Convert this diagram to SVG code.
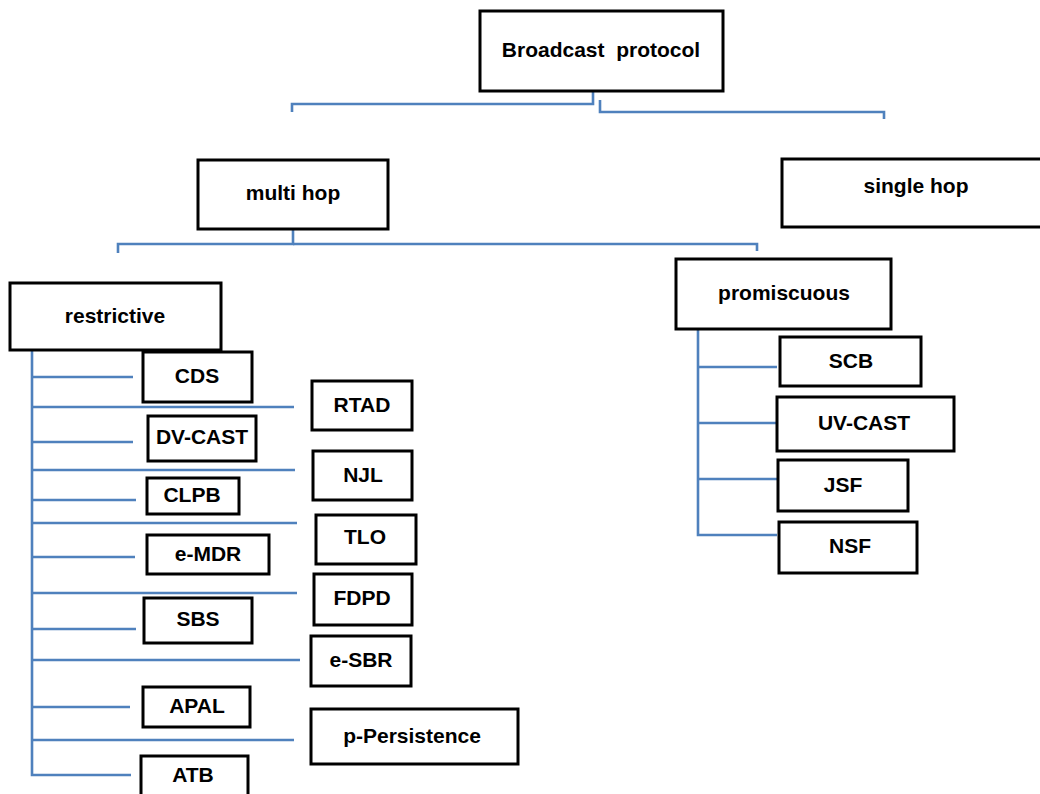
<svg xmlns="http://www.w3.org/2000/svg" width="1040" height="794" viewBox="0 0 1040 794">
<style>
.box{fill:#fff;stroke:#000;stroke-width:3}
.lbl{font-family:"Liberation Sans",Arial,sans-serif;font-weight:bold;font-size:21px;fill:#000;text-anchor:middle}
.con{fill:none;stroke:#4F81BD;stroke-width:2.6}
</style>
<rect width="1040" height="794" fill="#fff"/>
<g id="connectors">
<path class="con" d="M593,91 V104 H292 V112"/>
<path class="con" d="M600,100 V112 H884 V119"/>
<path class="con" d="M293,229 V244 H118 V253"/>
<path class="con" d="M293,244 H757 V251"/>
<path class="con" d="M32,350 V775 H131"/>
<path class="con" d="M32,377 H133 M32,407 H294 M32,442 H133 M32,470 H295 M32,500 H136 M32,523 H297 M32,557 H135 M32,593 H297 M32,629 H136 M32,660 H300 M32,707 H130 M32,740 H294"/>
<path class="con" d="M698,329 V535 H777 M698,367 H777 M698,423 H777 M698,479 H777"/>
</g>
<g id="n-broadcast"><rect class="box" x="480" y="11" width="243" height="80"/><text class="lbl" x="601" y="57" xml:space="preserve">Broadcast  protocol</text></g>
<g id="n-multihop"><rect class="box" x="198" y="160" width="190" height="69"/><text class="lbl" x="293" y="200">multi hop</text></g>
<g id="n-singlehop"><rect class="box" x="782" y="159" width="264" height="68"/><text class="lbl" x="916" y="193">single hop</text></g>
<g id="n-restrictive"><rect class="box" x="10" y="283" width="211" height="67"/><text class="lbl" x="115" y="323">restrictive</text></g>
<g id="n-promiscuous"><rect class="box" x="676" y="259" width="215" height="70"/><text class="lbl" x="784" y="300">promiscuous</text></g>
<g id="n-cds"><rect class="box" x="143" y="352" width="109" height="50"/><text class="lbl" x="197" y="383">CDS</text></g>
<g id="n-rtad"><rect class="box" x="312" y="381" width="100" height="49"/><text class="lbl" x="362" y="412">RTAD</text></g>
<g id="n-dvcast"><rect class="box" x="148" y="416" width="108" height="45"/><text class="lbl" x="202" y="444">DV-CAST</text></g>
<g id="n-njl"><rect class="box" x="313" y="451" width="99" height="49"/><text class="lbl" x="363" y="482">NJL</text></g>
<g id="n-clpb"><rect class="box" x="147" y="478" width="92" height="36"/><text class="lbl" x="192" y="502">CLPB</text></g>
<g id="n-tlo"><rect class="box" x="316" y="515" width="100" height="49"/><text class="lbl" x="365" y="544">TLO</text></g>
<g id="n-emdr"><rect class="box" x="147" y="535" width="122" height="39"/><text class="lbl" x="208" y="561">e-MDR</text></g>
<g id="n-fdpd"><rect class="box" x="314" y="574" width="98" height="51"/><text class="lbl" x="362" y="605">FDPD</text></g>
<g id="n-sbs"><rect class="box" x="144" y="598" width="108" height="45"/><text class="lbl" x="198" y="626">SBS</text></g>
<g id="n-esbr"><rect class="box" x="311" y="636" width="100" height="50"/><text class="lbl" x="361" y="667">e-SBR</text></g>
<g id="n-apal"><rect class="box" x="143" y="687" width="107" height="40"/><text class="lbl" x="197" y="713">APAL</text></g>
<g id="n-ppersistence"><rect class="box" x="311" y="709" width="207" height="55"/><text class="lbl" x="412" y="743">p-Persistence</text></g>
<g id="n-atb"><rect class="box" x="141" y="756" width="107" height="45"/><text class="lbl" x="193" y="782">ATB</text></g>
<g id="n-scb"><rect class="box" x="780" y="337" width="141" height="49"/><text class="lbl" x="851" y="368">SCB</text></g>
<g id="n-uvcast"><rect class="box" x="777" y="397" width="177" height="54"/><text class="lbl" x="864" y="430">UV-CAST</text></g>
<g id="n-jsf"><rect class="box" x="778" y="460" width="130" height="51"/><text class="lbl" x="843" y="492">JSF</text></g>
<g id="n-nsf"><rect class="box" x="779" y="522" width="138" height="51"/><text class="lbl" x="850" y="553">NSF</text></g>
</svg>
